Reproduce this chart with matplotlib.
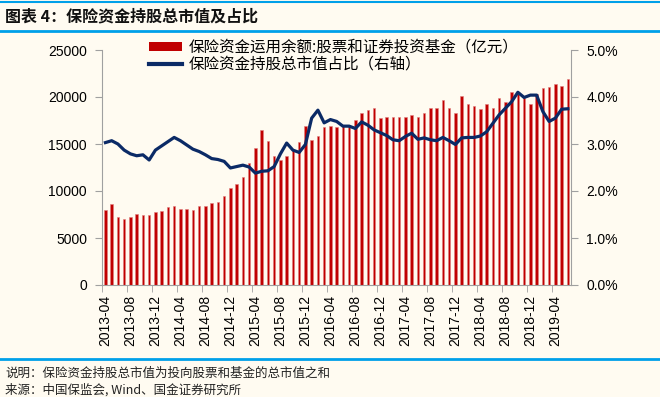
import numpy as np
import matplotlib
matplotlib.use('Agg')
import matplotlib.pyplot as plt
from matplotlib.lines import Line2D
from matplotlib.patches import Patch

plt.rcParams['font.family'] = ['Liberation Sans', 'Noto Sans CJK SC', 'DejaVu Sans']

# months 2013-04 .. 2019-06
months = ['2013-04', '2013-05', '2013-06', '2013-07', '2013-08', '2013-09', '2013-10', '2013-11', '2013-12',
          '2014-01', '2014-02', '2014-03', '2014-04', '2014-05', '2014-06', '2014-07', '2014-08', '2014-09',
          '2014-10', '2014-11', '2014-12', '2015-01', '2015-02', '2015-03', '2015-04', '2015-05', '2015-06',
          '2015-07', '2015-08', '2015-09', '2015-10', '2015-11', '2015-12', '2016-01', '2016-02', '2016-03',
          '2016-04', '2016-05', '2016-06', '2016-07', '2016-08', '2016-09', '2016-10', '2016-11', '2016-12',
          '2017-01', '2017-02', '2017-03', '2017-04', '2017-05', '2017-06', '2017-07', '2017-08', '2017-09',
          '2017-10', '2017-11', '2017-12', '2018-01', '2018-02', '2018-03', '2018-04', '2018-05', '2018-06',
          '2018-07', '2018-08', '2018-09', '2018-10', '2018-11', '2018-12', '2019-01', '2019-02', '2019-03',
          '2019-04', '2019-05', '2019-06']

# 股票和证券投资基金 余额 (亿元)
stock_fund = [7950, 8580, 7240, 7060, 7240, 7520, 7480, 7480, 7800,
              7870, 8260, 8400, 8120, 8050, 7980, 8440, 8400, 8680,
              8860, 9500, 10270, 10700, 11440, 12990, 14540, 16520, 15350,
              13770, 13310, 13700, 14370, 15250, 16940, 15460, 15880, 16770,
              16910, 16800, 16980, 16910, 17580, 18250, 18600, 18850, 17750,
              17830, 17900, 17900, 17900, 18110, 17860, 18350, 18780, 18780,
              19730, 18780, 18350, 20080, 19240, 18990, 18760, 19250, 18780,
              19860, 19490, 20580, 20340, 19860, 19210, 20300, 21000, 21100,
              21340, 21200, 21890]

# 持股总市值占比 (%)
share_pct = [3.03, 3.07, 3.00, 2.87, 2.79, 2.75, 2.77, 2.66, 2.87,
             2.96, 3.05, 3.14, 3.07, 2.98, 2.89, 2.84, 2.77, 2.69,
             2.67, 2.63, 2.49, 2.52, 2.55, 2.51, 2.38, 2.42, 2.43,
             2.52, 2.79, 3.02, 2.87, 2.82, 2.99, 3.55, 3.72, 3.45,
             3.52, 3.48, 3.38, 3.38, 3.33, 3.47, 3.40, 3.30, 3.24,
             3.18, 3.09, 3.07, 3.16, 3.23, 3.10, 3.13, 3.09, 3.07,
             3.14, 3.07, 2.99, 3.13, 3.14, 3.14, 3.17, 3.26, 3.44,
             3.62, 3.76, 3.90, 4.10, 3.99, 4.04, 4.04, 3.69, 3.48,
             3.55, 3.74, 3.75]

bar_label = '保险资金运用余额:股票和证券投资基金（亿元）'
line_label = '保险资金持股总市值占比（右轴）'

BG = '#FFFBF1'
RED = '#C00000'
NAVY = '#0B2A66'
CYAN = '#00A0E9'
GREY = '#A0A0A0'
CJK = ['Noto Sans CJK SC', 'DejaVu Sans']

W, H = 660, 397
fig = plt.figure(figsize=(W / 100, H / 100), dpi=100, facecolor=BG)

x = np.arange(len(months))

ax = fig.add_axes([102.3 / W, 1 - 285 / H, (571 - 102.3) / W, (285 - 50) / H])
ax.set_facecolor(BG)
ax.bar(x, stock_fund, width=0.42, color=RED, edgecolor='#E08080', linewidth=0.4, zorder=2)
ax.set_xlim(-0.5, len(months) - 0.5)
ax.set_ylim(0, 25000)
ax.set_yticks(np.arange(0, 25001, 5000))
ax.tick_params(axis='y', direction='out', length=5, color=GREY, labelsize=10, pad=6)

# labels at category centres, tick marks at category boundaries
lab_pos = x[::4]
ax.set_xticks(lab_pos)
ax.set_xticklabels([months[i] for i in lab_pos], rotation=90, fontsize=10)
ax.tick_params(axis='x', which='major', length=0, pad=7)
ax.set_xticks(lab_pos - 0.5, minor=True)
ax.tick_params(axis='x', which='minor', direction='out', length=5, color=GREY)

for s in ['top', 'right']:
    ax.spines[s].set_visible(False)
for s in ['left', 'bottom']:
    ax.spines[s].set_color(GREY)

ax2 = ax.twinx()
ax2.plot(x, share_pct, color=NAVY, linewidth=2.3, solid_joinstyle='round', zorder=3)
ax2.set_ylim(0, 5)
ax2.set_yticks(np.arange(0, 5.01, 1))
ax2.set_yticklabels(['%.1f%%' % v for v in np.arange(0, 5.01, 1)])
ax2.tick_params(axis='y', direction='out', length=5, color=GREY, labelsize=10, pad=6)
for s in ['top', 'left', 'bottom']:
    ax2.spines[s].set_visible(False)
ax2.spines['right'].set_color(GREY)

handles = [Patch(facecolor=RED, edgecolor='none'),
           Line2D([0], [0], color=NAVY, linewidth=3)]
leg = ax2.legend(handles, [bar_label, line_label], loc='upper left',
                 bbox_to_anchor=(149 / W, 1 - 39 / H), bbox_transform=fig.transFigure,
                 frameon=False, prop={'family': CJK, 'size': 11.2},
                 handlelength=2.1, handleheight=0.45, handletextpad=0.45,
                 labelspacing=0.0, borderpad=0, borderaxespad=0)

# title block
fig.add_artist(Line2D([0, 1], [1 - 2 / H, 1 - 2 / H], color=CYAN, linewidth=1.5))
fig.add_artist(Line2D([0, 1], [1 - 31 / H, 1 - 31 / H], color=CYAN, linewidth=2))
fig.text(5 / W, 1 - 16 / H, '图表 4：保险资金持股总市值及占比', family=CJK,
         fontsize=11.5, fontweight='bold', va='center', ha='left', color='#111111')

# notes block
fig.add_artist(Line2D([0, 1], [1 - 359 / H, 1 - 359 / H], color=CYAN, linewidth=2))
fig.text(5 / W, 1 - 373 / H, '说明：保险资金持股总市值为投向股票和基金的总市值之和', family=CJK,
         fontsize=9, va='center', ha='left', color='#222222')
fig.text(5 / W, 1 - 390 / H, '来源：中国保监会, Wind、国金证券研究所', family=CJK,
         fontsize=9, va='center', ha='left', color='#222222')

plt.savefig('out.png', dpi=100, facecolor=BG)
